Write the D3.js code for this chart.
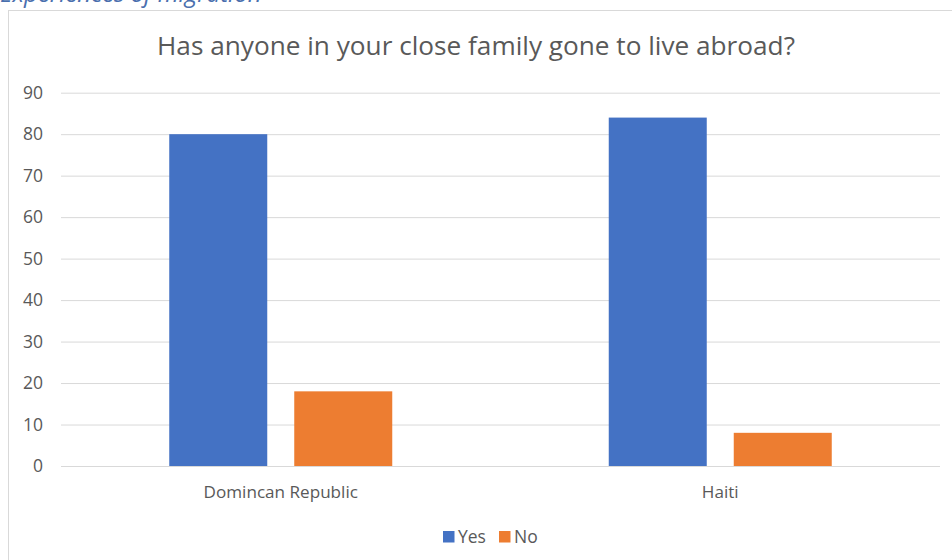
<!DOCTYPE html>
<html>
<head>
<meta charset="utf-8">
<script src="https://cdn.jsdelivr.net/npm/d3@7"></script>
<style>
  html, body { margin: 0; padding: 0; background: #fff; }
  svg { display: block; font-family: "Open Sans", "Noto Sans", sans-serif; }
</style>
</head>
<body>
<svg id="chart" width="952" height="560"></svg>
<script>
// Survey answers by country (percent)
const categories = ["Domincan Republic", "Haiti"];
const seriesNames = ["Yes", "No"];
const yesValues = [80, 84];
const noValues = [18, 8];
const yTicks = [0, 10, 20, 30, 40, 50, 60, 70, 80, 90];
const colors = { Yes: "#4472C4", No: "#ED7D31" };

const series = { Yes: yesValues, No: noValues };

const svg = d3.select("#chart");
const x0 = 61, x1 = 940, yTop = 92.7, yBottom = 466;

// Section caption above the chart frame
svg.append("text")
  .attr("x", 0).attr("y", 2)
  .attr("font-size", 24)
  .attr("font-style", "italic")
  .attr("fill", "#4a6fae")
  .text("Experiences of migration");

// Chart frame
svg.append("rect")
  .attr("x", 8.5).attr("y", 10.5)
  .attr("width", 960).attr("height", 570)
  .attr("fill", "#fff")
  .attr("stroke", "#d9d9d9").attr("stroke-width", 1);

// Title
svg.append("text")
  .attr("x", 476).attr("y", 55)
  .attr("text-anchor", "middle")
  .attr("font-size", 26.2)
  .attr("fill", "#595959")
  .text("Has anyone in your close family gone to live abroad?");

const y = d3.scaleLinear().domain([0, 90]).range([yBottom, yTop]);
const x = d3.scaleBand().domain(categories).range([x0, x1]).paddingInner(0).paddingOuter(0);

// Gridlines and value labels
const yAxis = d3.axisLeft(y).tickValues(yTicks).tickSize(-(x1 - x0)).tickPadding(18);
const gy = svg.append("g").attr("transform", `translate(${x0},0)`).call(yAxis);
gy.select(".domain").remove();
gy.selectAll(".tick line").attr("stroke", "#d9d9d9").attr("stroke-width", 1);
gy.selectAll(".tick text")
  .attr("font-size", 17.5)
  .attr("fill", "#595959")
  .attr("font-family", "'Open Sans', sans-serif")
  .attr("text-anchor", "end")
  .attr("x", -18);

// Bars: width about 98px, groups centered in each band
const barW = 98, innerGap = 27;
const groupW = barW * 2 + innerGap;
const sub = d3.scaleOrdinal().domain(seriesNames).range([0, barW + innerGap]);

categories.forEach((c, i) => {
  const gx = x(c) + x.bandwidth() / 2 - groupW / 2;
  seriesNames.forEach(s => {
    const v = series[s][i];
    svg.append("rect")
      .attr("x", gx + sub(s))
      .attr("y", y(v))
      .attr("width", barW)
      .attr("height", y(0) - y(v))
      .attr("fill", colors[s]);
  });
});

// Category labels
const xAxis = d3.axisBottom(x).tickSize(0);
const gx = svg.append("g").attr("transform", `translate(0,${yBottom})`).call(xAxis);
gx.select(".domain").remove();
gx.selectAll(".tick text")
  .attr("y", 32).attr("dy", 0)
  .attr("font-size", 17.1)
  .attr("fill", "#595959")
  .attr("font-family", "'Open Sans', sans-serif");

// Legend
const legend = svg.append("g");
const legendItems = [
  { name: "Yes", x: 443 },
  { name: "No", x: 499 }
];
legendItems.forEach(d => {
  legend.append("rect")
    .attr("x", d.x).attr("y", 531)
    .attr("width", 11.5).attr("height", 11.5)
    .attr("fill", colors[d.name]);
  legend.append("text")
    .attr("x", d.x + 15).attr("y", 542.5)
    .attr("font-size", 17.5)
    .attr("fill", "#595959")
    .text(d.name);
});
</script>
</body>
</html>
